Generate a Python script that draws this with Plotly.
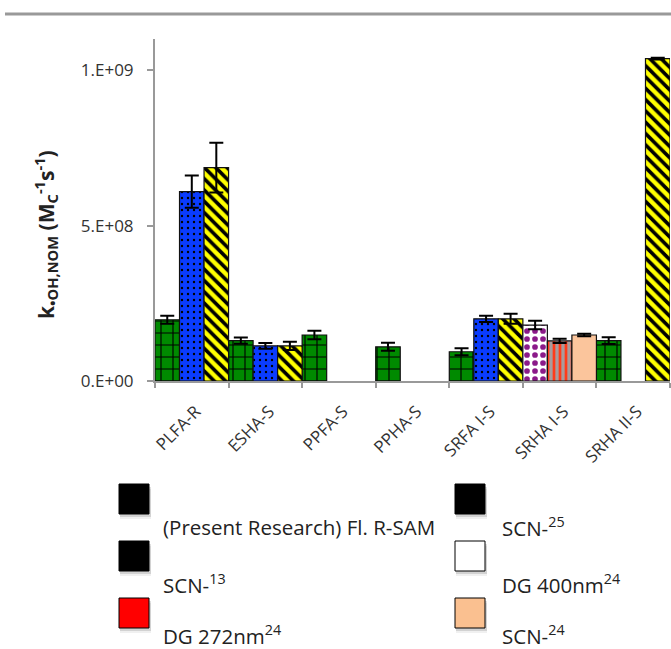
import plotly.graph_objects as go

# ---------------- data ----------------
categories = ["PLFA-R", "ESHA-S", "PPFA-S", "PPHA-S", "SRFA I-S", "SRHA I-S", "SRHA II-S"]

present_cats = ["PLFA-R", "ESHA-S", "PPFA-S", "PPHA-S", "SRFA I-S", "SRHA II-S"]
present_vals = [1.97e8, 1.30e8, 1.48e8, 1.10e8, 9.4e7, 1.30e8]
present_err = [1.3e7, 1.0e7, 1.35e7, 1.3e7, 1.1e7, 1.1e7]

scn13_cats = ["PLFA-R", "ESHA-S", "SRFA I-S"]
scn13_vals = [6.09e8, 1.13e8, 2.00e8]
scn13_err = [5.2e7, 9.0e6, 1.0e7]

scn25_cats = ["PLFA-R", "ESHA-S", "SRFA I-S", "SRHA II-S"]
scn25_vals = [6.86e8, 1.13e8, 2.00e8, 1.037e9]
scn25_err = [8.0e7, 1.3e7, 1.6e7, 3.0e6]

dg400_cats = ["SRHA I-S"]
dg400_vals = [1.80e8]
dg400_err = [1.35e7]

dg272_cats = ["SRHA I-S"]
dg272_vals = [1.29e8]
dg272_err = [7.0e6]

scn24_cats = ["SRHA I-S"]
scn24_vals = [1.48e8]
scn24_err = [4.0e6]

y_tickvals = [0, 5e8, 1e9]
y_ticktext = ["0.E+00", "5.E+08", "1.E+09"]

legend_labels = [
    "(Present Research) Fl. R-SAM",
    "SCN-<sup>13</sup>",
    "DG 272nm<sup>24</sup>",
    "SCN-<sup>25</sup>",
    "DG 400nm<sup>24</sup>",
    "SCN-<sup>24</sup>",
]
legend_colors = ["#000000", "#000000", "#ff0000", "#000000", "#ffffff", "#fac090"]

# ---------------- layout helpers ----------------
W, H = 671, 649
L, R, T, B = 155, 1, 39, 268
PW = W - L - R
PH = H - T - B


def px(x):  # pixel x -> paper
    return (x - L) / PW


def py(y):  # pixel y -> paper
    return (H - B - y) / PH


FONT = "Open Sans"
SLOT = 1 / 3

fig = go.Figure()


def add_bar(name, cats, vals, errs, slot, color, shape, fg, size, solidity):
    fig.add_trace(go.Bar(
        name=name,
        x=cats,
        y=vals,
        width=SLOT,
        offset=-0.5 + slot * SLOT,
        marker=dict(
            color=color,
            line=dict(color="#111111", width=1.2),
            pattern=dict(shape=shape, fgcolor=fg, bgcolor=color, size=size,
                         solidity=solidity, fillmode="replace") if shape else None,
        ),
        error_y=dict(type="data", array=errs, visible=True, color="#000000",
                     thickness=2, width=7),
        showlegend=False,
    ))


add_bar("(Present Research) Fl. R-SAM", present_cats, present_vals, present_err,
        0, "#008a00", "+", "#000000", 12, 0.18)
add_bar("SCN-13", scn13_cats, scn13_vals, scn13_err,
        1, "#0a3cff", ".", "#000000", 6, 0.12)
add_bar("SCN-25", scn25_cats, scn25_vals, scn25_err,
        2, "#ffff00", "\\", "#000000", 8, 0.45)
add_bar("DG 400nm24", dg400_cats, dg400_vals, dg400_err,
        0, "#ffffff", ".", "#8b1a89", 8, 0.4)
add_bar("DG 272nm24", dg272_cats, dg272_vals, dg272_err,
        1, "#a89c9c", "|", "#ff3b1a", 6, 0.45)
add_bar("SCN-24", scn24_cats, scn24_vals, scn24_err,
        2, "#fbc59c", None, None, None, None)

shapes = []
annotations = []

# top gray rule
shapes.append(dict(type="line", xref="paper", yref="paper",
                   x0=px(5), x1=px(675), y0=py(14), y1=py(14),
                   line=dict(color="#999999", width=3)))

# y-axis title
annotations.append(dict(
    xref="paper", yref="paper", x=px(45), y=py(235),
    text="<b>k<sub>•OH,NOM</sub> (M<sub>C</sub><sup>-1</sup>s<sup>-1</sup>)</b>",
    textangle=-90, showarrow=False, xanchor="center", yanchor="middle",
    font=dict(family=FONT, size=21, color="#222222"),
))

# custom legend
col_x = [119, 455]
text_x = [161, 500]
row_y = [484, 541, 598]
text_y = [527, 584, 635]
for i, (lab, col) in enumerate(zip(legend_labels, legend_colors)):
    c = i // 3
    r = i % 3
    x0, y0 = col_x[c], row_y[r]
    for off, op in [(5, 0.06), (3, 0.12)]:
        shapes.append(dict(type="rect", xref="paper", yref="paper",
                           x0=px(x0 + 1), x1=px(x0 + 31 + 1),
                           y0=py(y0 + off), y1=py(y0 + 30 + off),
                           fillcolor=f"rgba(0,0,0,{op})", line=dict(width=0),
                           layer="above"))
    shapes.append(dict(type="rect", xref="paper", yref="paper",
                       x0=px(x0), x1=px(x0 + 30), y0=py(y0), y1=py(y0 + 30),
                       fillcolor=col, line=dict(color="#000000", width=1),
                       layer="above"))
    annotations.append(dict(
        xref="paper", yref="paper", x=px(text_x[c]), y=py(text_y[r]),
        text=lab, showarrow=False, xanchor="left", yanchor="middle",
        font=dict(family=FONT, size=20.5, color="#222222"),
    ))

fig.update_layout(
    width=W, height=H,
    margin=dict(l=L, r=R, t=T, b=B, pad=0),
    paper_bgcolor="white", plot_bgcolor="white",
    barmode="overlay",
    shapes=shapes, annotations=annotations,
    font=dict(family=FONT, color="#333333"),
    xaxis=dict(
        categoryorder="array", categoryarray=categories,
        range=[-0.5, 6.5], tickson="boundaries",
        showline=True, linecolor="#999999", linewidth=2,
        ticks="outside", ticklen=5, tickcolor="#999999", tickwidth=1.5,
        tickangle=-45, tickfont=dict(family=FONT, size=17, color="#333333"),
        ticklabelstandoff=12, ticklabelshift=4,
        showgrid=False, zeroline=False,
    ),
    yaxis=dict(
        range=[0, 1.1e9],
        tickvals=y_tickvals, ticktext=y_ticktext,
        showline=True, linecolor="#999999", linewidth=2,
        ticks="outside", ticklen=6, tickcolor="#999999", tickwidth=1.5,
        tickfont=dict(family=FONT, size=17, color="#333333"),
        ticklabelstandoff=10,
        showgrid=False, zeroline=False,
    ),
)

fig.write_html(
    "out.html",
    config={"displayModeBar": False},
    post_script=(
        "document.body.style.margin='0px';"
        "document.body.style.overflow='hidden';"
        "document.documentElement.style.overflow='hidden';"
    ),
)
